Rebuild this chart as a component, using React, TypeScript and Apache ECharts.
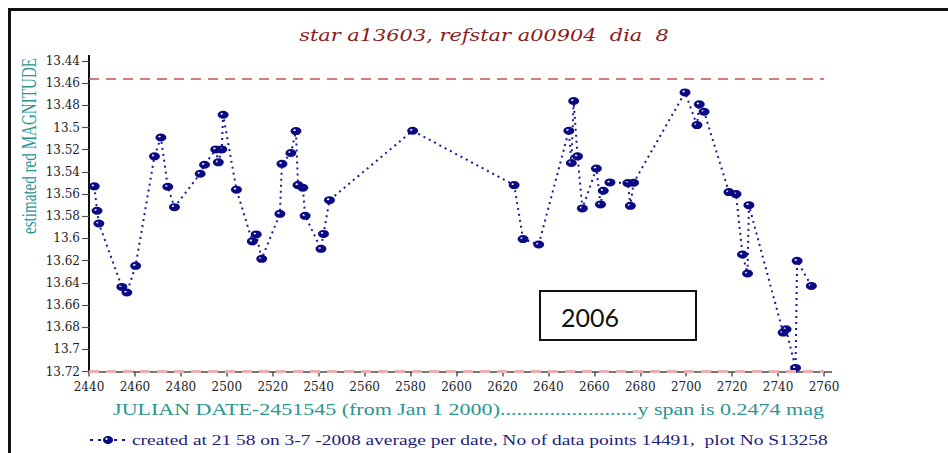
import React, { useEffect, useRef } from "react";
import * as echarts from "echarts";

const julianDays = [
  2442.3, 2443.5, 2444.3, 2454.3, 2456.5, 2460.3, 2468.5, 2471.3, 2474.3, 2477.2,
  2488.4, 2490.3, 2495.2, 2496.3, 2497.8, 2498.4, 2504.2, 2511.1, 2512.8, 2515.2,
  2523.1, 2524.0, 2527.9, 2530.1, 2531.0, 2533.1, 2534.1, 2541.0, 2542.1, 2544.7,
  2580.9, 2625.1, 2629.0, 2635.8, 2648.9, 2650.0, 2651.0, 2652.7, 2654.8, 2660.9,
  2662.7, 2663.9, 2666.8, 2674.6, 2675.7, 2677.1, 2699.5, 2704.7, 2705.7, 2707.8,
  2718.6, 2721.7, 2724.5, 2726.7, 2727.3, 2742.2, 2743.5, 2747.6, 2748.3, 2754.5,
];
const magnitudes = [
  13.553, 13.575, 13.5865, 13.6437, 13.6488, 13.6247, 13.526, 13.509, 13.5534, 13.5718,
  13.5417, 13.5336, 13.5197, 13.5314, 13.5197, 13.4885, 13.556, 13.6027, 13.5964, 13.6184,
  13.5778, 13.5327, 13.523, 13.5032, 13.5519, 13.5543, 13.5796, 13.6094, 13.5959, 13.5655,
  13.5029, 13.5519, 13.6006, 13.6055, 13.5029, 13.532, 13.4761, 13.526, 13.5729, 13.5369,
  13.5693, 13.557, 13.5495, 13.5501, 13.5706, 13.5498, 13.4683, 13.4978, 13.4791, 13.4858,
  13.5582, 13.56, 13.6145, 13.6316, 13.57, 13.6849, 13.6819, 13.7168, 13.6202, 13.6428,
];
const limitLines = [13.456, 13.7195];

const titleText = "star a13603, refstar a00904  dia  8";
const yName = "estimated red MAGNITUDE";
const xName = "JULIAN DATE-2451545 (from Jan 1 2000).........................y span is 0.2474 mag";
const seriesName = "created at 21 58 on 3-7 -2008 average per date, No of data points 14491,  plot No S13258";
const boxLabel = "2006";

const markerPath =
  "path://M0,-1 A1,1 0 1,1 0,1 A1,1 0 1,1 0,-1 Z M-0.25,-0.45 A0.22,0.22 0 1,0 -0.25,-0.01 A0.22,0.22 0 1,0 -0.25,-0.45 Z";

function fitScale(text: string, font: string, target: number): number {
  const ctx = document.createElement("canvas").getContext("2d");
  if (!ctx) return 1;
  ctx.font = font;
  const w = ctx.measureText(text).width;
  return w > 0 ? target / w : 1;
}

export default function App() {
  const ref = useRef<HTMLDivElement>(null);
  useEffect(() => {
    if (!ref.current) return;
    const chart = echarts.init(ref.current, null, { renderer: "svg" });
    const data = julianDays.map((d, i) => [d, magnitudes[i]]);

    const titleFont = "italic 17px 'DejaVu Serif'";
    const yNameFont = "22px 'Liberation Serif'";
    const xNameFont = "16px 'Liberation Serif'";
    const footFont = "14px 'Liberation Serif'";

    chart.setOption({
      animation: false,
      backgroundColor: "#ffffff",
      grid: { left: 89, right: 124, top: 61, bottom: 81.5 },
      xAxis: {
        type: "value",
        min: 2440,
        max: 2760,
        interval: 20,
        splitLine: { show: false },
        axisLine: { show: true, onZero: false, lineStyle: { color: "#777", width: 2 } },
        axisTick: { show: true, length: 5, lineStyle: { color: "#555", width: 1.5 } },
        axisLabel: {
          fontFamily: "DejaVu Serif",
          fontSize: 12,
          color: "#222",
          margin: 9,
          formatter: (v: number) => String(v),
        },
      },
      yAxis: {
        type: "value",
        inverse: true,
        min: 13.44,
        max: 13.72,
        interval: 0.02,
        splitLine: { show: false },
        axisLine: { show: true, onZero: false, lineStyle: { color: "#111", width: 2 } },
        axisTick: { show: true, length: 7, lineStyle: { color: "#555", width: 1.2 } },
        axisLabel: { fontFamily: "DejaVu Serif", fontSize: 12, color: "#222", margin: 9 },
      },
      series: [
        {
          name: seriesName,
          type: "line",
          data,
          symbol: markerPath,
          symbolSize: [11, 8],
          showAllSymbol: true,
          itemStyle: { color: "#0a0a82" },
          lineStyle: { color: "#1a1a96", width: 2, type: [2, 4] },
          z: 5,
          markLine: {
            silent: true,
            symbol: "none",
            precision: 4,
            z: 6,
            label: { show: false },
            lineStyle: { color: "#c85050", width: 1.5, type: [10, 7], opacity: 1 },
            data: [
              { yAxis: limitLines[0] },
              { yAxis: limitLines[1], lineStyle: { color: "#e8b0b0", width: 3, type: [10, 7] } },
            ],
          },
        },
      ],
      graphic: [
        { type: "line", shape: { x1: 8, y1: 9.5, x2: 948, y2: 9.5 }, style: { stroke: "#111", lineWidth: 3 }, z: 10 },
        { type: "line", shape: { x1: 9.5, y1: 8, x2: 9.5, y2: 453 }, style: { stroke: "#111", lineWidth: 3 }, z: 10 },
        { type: "line", shape: { x1: 89, y1: 55, x2: 89, y2: 62 }, style: { stroke: "#111", lineWidth: 2 } },
        { type: "line", shape: { x1: 823, y1: 372, x2: 832, y2: 372 }, style: { stroke: "#777", lineWidth: 2 } },
        {
          type: "text",
          x: 484,
          y: 35,
          scaleX: fitScale(titleText, titleFont, 370),
          style: {
            text: titleText,
            fill: "#8b1a1a",
            font: titleFont,
            textAlign: "center",
            textVerticalAlign: "middle",
          },
        },
        {
          type: "text",
          x: 28,
          y: 146,
          rotation: Math.PI / 2,
          scaleX: fitScale(yName, yNameFont, 176),
          style: {
            text: yName,
            fill: "#2a9690",
            font: yNameFont,
            textAlign: "center",
            textVerticalAlign: "middle",
          },
        },
        {
          type: "text",
          x: 468.5,
          y: 410,
          scaleX: fitScale(xName, xNameFont, 711),
          style: {
            text: xName,
            fill: "#2a9690",
            font: xNameFont,
            textAlign: "center",
            textVerticalAlign: "middle",
          },
        },
        // footer legend
        { type: "line", shape: { x1: 90, y1: 440, x2: 127, y2: 440 }, style: { stroke: "#1a1a96", lineWidth: 2, lineDash: [3, 5] } },
        { type: "ellipse", shape: { cx: 108, cy: 440, rx: 5, ry: 4 }, style: { fill: "#0a0a82" } },
        { type: "circle", shape: { cx: 106.5, cy: 438.8, r: 1.1 }, style: { fill: "#fff" } },
        {
          type: "text",
          x: 132,
          y: 440,
          scaleX: fitScale(seriesName, footFont, 696),
          style: {
            text: seriesName,
            fill: "#1c1c80",
            font: footFont,
            textAlign: "left",
            textVerticalAlign: "middle",
          },
        },
        {
          type: "text",
          x: 561,
          y: 329,
          z: 20,
          style: {
            text: boxLabel,
            fill: "#111",
            font: "25px Lato",
            textAlign: "left",
            textVerticalAlign: "bottom",
          },
        },
        { type: "rect", z: 21, shape: { x: 541, y: 328.5, width: 154, height: 10.5 }, style: { fill: "#fff" } },
        {
          type: "rect",
          z: 22,
          shape: { x: 540, y: 291, width: 156, height: 49 },
          style: { fill: "none", stroke: "#111", lineWidth: 2 },
        },
      ],
    });
    return () => chart.dispose();
  }, []);
  return <div ref={ref} style={{ position: "fixed", left: 0, top: 0, width: 948, height: 453 }} />;
}
